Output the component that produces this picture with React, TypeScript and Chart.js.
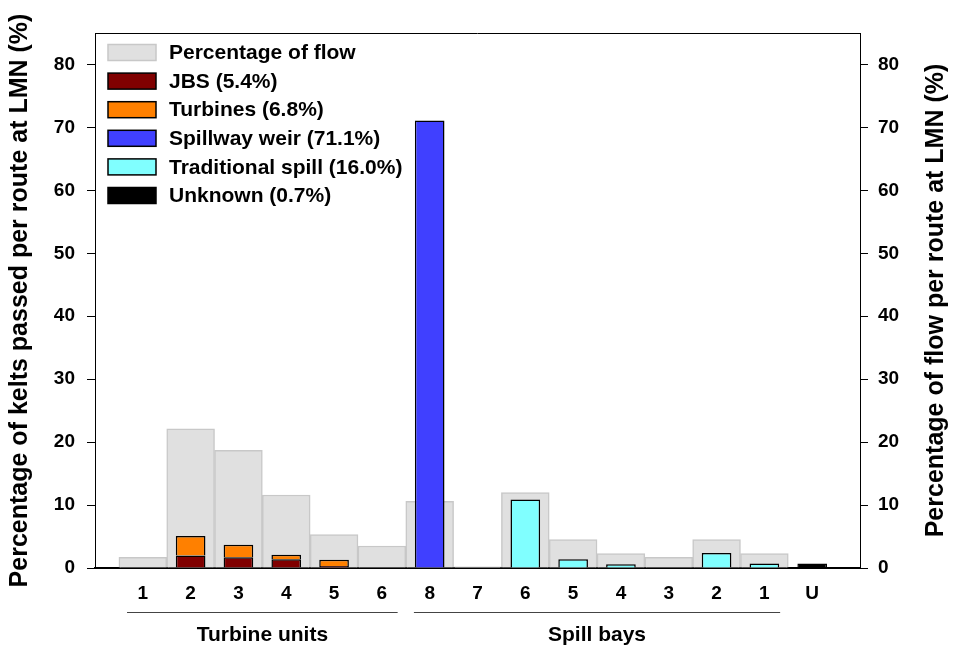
import React, { useEffect, useRef } from 'react';
import { Chart, registerables } from 'chart.js';

Chart.register(...registerables);

const categories = ['1', '2', '3', '4', '5', '6', '8', '7', '6', '5', '4', '3', '2', '1', 'U'];
const flowPct = [1.7, 22.1, 18.7, 11.6, 5.3, 3.5, 10.6, 0.2, 12.0, 4.5, 2.3, 1.7, 4.5, 2.3, null];
const jbs = [null, 2.0, 1.7, 1.4, 0.3, null, null, null, null, null, null, null, null, null, null];
const turbines = [null, 3.1, 2.0, 0.7, 1.0, null, null, null, null, null, null, null, null, null, null];
const spillwayWeir = [null, null, null, null, null, null, 71.1, null, null, null, null, null, null, null, null];
const traditionalSpill = [null, null, null, null, null, null, null, null, 10.9, 1.4, 0.6, null, 2.4, 0.7, null];
const unknown = [null, null, null, null, null, null, null, null, null, null, null, null, null, null, 0.7];
const yTicks = [0, 10, 20, 30, 40, 50, 60, 70, 80];
const groups = [
  { label: 'Turbine units', first: 0, last: 5 },
  { label: 'Spill bays', first: 6, last: 13 },
];
const leftTitle = 'Percentage of kelts passed per route at LMN (%)';
const rightTitle = 'Percentage of flow per route at LMN (%)';

const FONT = "Arial, 'Liberation Sans', sans-serif";
const pad = (arr: (number | null)[]) => [null, ...arr, null];

const decorPlugin = {
  id: 'decor',
  afterDraw(chart: any) {
    const ctx = chart.ctx as CanvasRenderingContext2D;
    const { left, right, top, bottom } = chart.chartArea;
    const xs = chart.scales.x;
    ctx.save();
    // top frame line
    ctx.strokeStyle = '#000';
    ctx.lineWidth = 1;
    ctx.beginPath();
    ctx.moveTo(left, top + 0.5);
    ctx.lineTo(right, top + 0.5);
    ctx.stroke();

    // group brackets
    groups.forEach((g) => {
      const x0 = xs.getPixelForValue(g.first + 1 - 0.33);
      const x1 = xs.getPixelForValue(g.last + 1 + 0.33);
      ctx.strokeStyle = '#444';
      ctx.lineWidth = 1;
      ctx.beginPath();
      ctx.moveTo(x0, 612.5);
      ctx.lineTo(x1, 612.5);
      ctx.stroke();
      ctx.fillStyle = '#000';
      ctx.font = `bold 21px ${FONT}`;
      ctx.textAlign = 'center';
      ctx.textBaseline = 'middle';
      ctx.fillText(g.label, (x0 + x1) / 2, 635);
    });

    // axis titles (both read bottom-to-top)
    const cy = (top + bottom) / 2;
    ctx.font = `bold 25px ${FONT}`;
    ctx.fillStyle = '#000';
    ctx.textAlign = 'center';
    ctx.textBaseline = 'middle';
    ctx.save();
    ctx.translate(20.5, cy);
    ctx.rotate(-Math.PI / 2);
    ctx.fillText(leftTitle, 0, 0);
    ctx.restore();
    ctx.save();
    ctx.translate(936, cy);
    ctx.rotate(-Math.PI / 2);
    ctx.fillText(rightTitle, 0, 0);
    ctx.restore();

    // legend
    const ds = chart.data.datasets;
    ds.forEach((d: any, i: number) => {
      const cyL = 52.5 + i * 28.6;
      ctx.fillStyle = d.backgroundColor;
      ctx.fillRect(108, cyL - 8, 48, 16);
      ctx.strokeStyle = d.borderColor;
      ctx.lineWidth = 1.5;
      ctx.strokeRect(108, cyL - 8, 48, 16);
      ctx.fillStyle = '#000';
      ctx.font = `bold 21px ${FONT}`;
      ctx.textAlign = 'left';
      ctx.textBaseline = 'middle';
      ctx.fillText(d.label, 169, cyL + 1);
    });
    ctx.restore();
  },
};

export default function App() {
  const ref = useRef<HTMLCanvasElement | null>(null);
  useEffect(() => {
    if (!ref.current) return;
    const labels = ['', ...categories, ''];
    const colored = { barPercentage: 0.62, categoryPercentage: 1, borderColor: '#000', borderWidth: 1.5, yAxisID: 'y', stack: 'kelts', order: 0 };
    const chart = new Chart(ref.current, {
      type: 'bar',
      data: {
        labels,
        datasets: [
          { label: 'Percentage of flow', data: pad(flowPct), backgroundColor: '#e0e0e0', borderColor: '#c8c8c8', borderWidth: 1.5, barPercentage: 1, categoryPercentage: 1, yAxisID: 'y2', stack: 'flow', order: 1 },
          { label: 'JBS (5.4%)', data: pad(jbs), backgroundColor: '#800000', ...colored },
          { label: 'Turbines (6.8%)', data: pad(turbines), backgroundColor: '#ff8000', ...colored },
          { label: 'Spillway weir (71.1%)', data: pad(spillwayWeir), backgroundColor: '#4040ff', ...colored },
          { label: 'Traditional spill (16.0%)', data: pad(traditionalSpill), backgroundColor: '#80ffff', ...colored },
          { label: 'Unknown (0.7%)', data: pad(unknown), backgroundColor: '#000000', ...colored },
        ] as any,
      },
      options: {
        responsive: false,
        animation: false,
        devicePixelRatio: 1,
        datasets: { bar: { grouped: false, borderSkipped: 'start' } } as any,
        layout: { padding: { top: 33, left: 0, right: 0, bottom: 0 } },
        plugins: { legend: { display: false }, tooltip: { enabled: false }, title: { display: false } },
        scales: {
          x: {
            type: 'category',
            offset: false,
            z: 1,
            grid: { display: false, drawTicks: false },
            border: { display: true, color: '#000', width: 2 },
            ticks: { color: '#000', font: { family: FONT, size: 19, weight: 'bold' }, padding: 14, autoSkip: false, maxRotation: 0 },
            afterFit: (s: any) => { s.height = 80; },
          },
          y: {
            position: 'left',
            stacked: true,
            min: 0,
            max: 85,
            grid: { display: true, drawOnChartArea: false, drawTicks: true, tickLength: 8, color: '#000', lineWidth: 1 },
            border: { display: true, color: '#000', width: 1 },
            ticks: { color: '#000', font: { family: FONT, size: 19, weight: 'bold' }, padding: 12 },
            afterBuildTicks: (s: any) => { s.ticks = yTicks.map((v) => ({ value: v })); },
            afterFit: (s: any) => { s.width = 95; },
          },
          y2: {
            position: 'right',
            stacked: true,
            min: 0,
            max: 85,
            grid: { display: true, drawOnChartArea: false, drawTicks: true, tickLength: 8, color: '#000', lineWidth: 1 },
            border: { display: true, color: '#000', width: 1 },
            ticks: { color: '#000', font: { family: FONT, size: 19, weight: 'bold' }, padding: 10 },
            afterBuildTicks: (s: any) => { s.ticks = yTicks.map((v) => ({ value: v })); },
            afterFit: (s: any) => { s.width = 93; },
          },
        } as any,
      },
      plugins: [decorPlugin],
    });
    return () => chart.destroy();
  }, []);
  return (
    <div style={{ position: 'absolute', left: 0, top: 0, width: 953, height: 648, background: '#fff' }}>
      <canvas ref={ref} width={953} height={648} style={{ display: 'block' }} />
    </div>
  );
}
